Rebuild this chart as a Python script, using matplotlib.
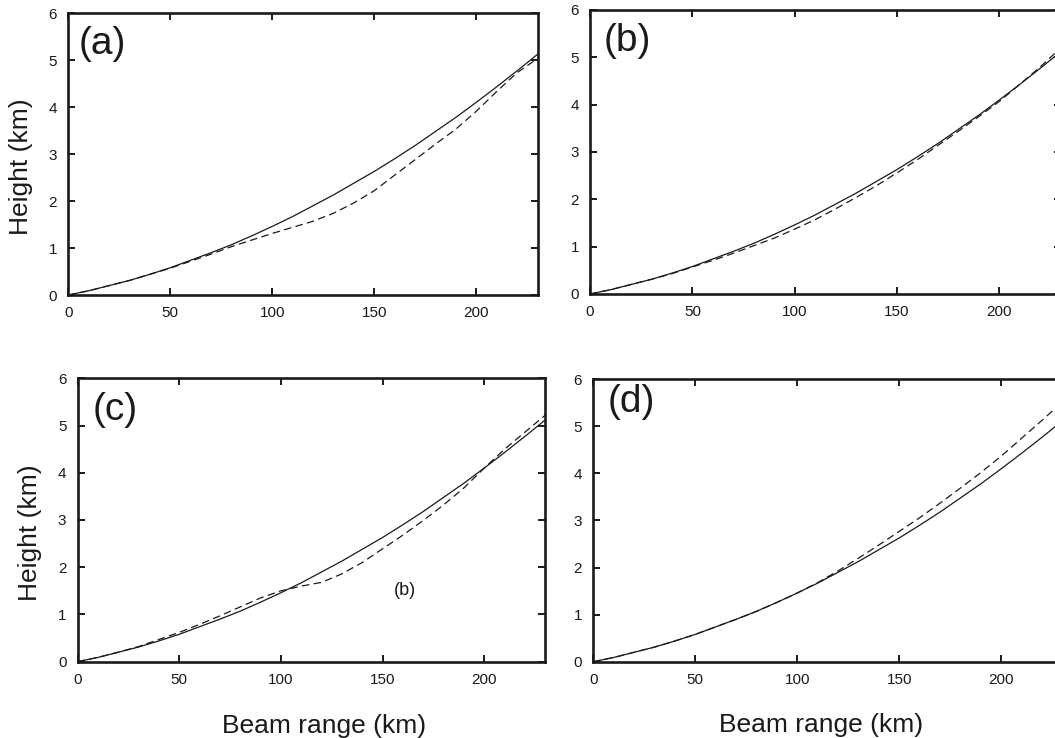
import matplotlib
matplotlib.use("Agg")
import matplotlib.pyplot as plt

plt.rcParams['font.family'] = ['Liberation Sans', 'DejaVu Sans']

# beam range (km)
rng = [0, 10, 20, 30, 40, 50, 60, 70, 80, 90, 100, 110, 120,
       130, 140, 150, 160, 170, 180, 190, 200, 210, 220, 230]

# reference beam height (km), same in every panel
h_ref = [0, 0.09, 0.20, 0.31, 0.44, 0.58, 0.74, 0.90, 1.07, 1.26, 1.46, 1.67, 1.90,
         2.13, 2.38, 2.63, 2.90, 3.18, 3.48, 3.78, 4.10, 4.43, 4.77, 5.12]

# ray-traced beam heights (km)
h_a = [0, 0.09, 0.20, 0.31, 0.44, 0.57, 0.72, 0.87, 1.03, 1.17, 1.31, 1.44, 1.57,
       1.74, 1.96, 2.22, 2.55, 2.88, 3.21, 3.53, 3.91, 4.33, 4.73, 5.03]
h_b = [0, 0.09, 0.20, 0.31, 0.43, 0.57, 0.71, 0.86, 1.02, 1.18, 1.37, 1.57, 1.80,
       2.04, 2.29, 2.56, 2.84, 3.14, 3.44, 3.75, 4.07, 4.43, 4.80, 5.20]
h_c = [0, 0.09, 0.20, 0.32, 0.47, 0.62, 0.79, 0.97, 1.16, 1.35, 1.50, 1.60, 1.68,
       1.86, 2.10, 2.39, 2.68, 2.99, 3.32, 3.68, 4.10, 4.50, 4.86, 5.22]
h_d = [0, 0.09, 0.20, 0.31, 0.44, 0.58, 0.74, 0.90, 1.07, 1.26, 1.46, 1.68, 1.93,
       2.20, 2.48, 2.77, 3.06, 3.37, 3.69, 4.02, 4.37, 4.75, 5.13, 5.52]

fig = plt.figure(figsize=(10.55, 7.38), dpi=100)

panels = [
    # (rect, dashed data, tag, tag position, ylabel x, xlabel x)
    ([0.06474, 0.60027, 0.44474, 0.38211], h_a, '(a)', (0.021, 0.955), -0.075, None),
    ([0.55924, 0.60163, 0.44626, 0.38482], h_b, '(b)', (0.030, 0.955), None, None),
    ([0.07346, 0.10339, 0.44341, 0.38401], h_c, '(c)', (0.032, 0.950), -0.076, 0.527),
    ([0.56237, 0.10339, 0.44474, 0.38266], h_d, '(d)', (0.030, 0.985), None, 0.486),
]

for rect, h_dash, tag, tag_xy, ylab_x, xlab_x in panels:
    ax = fig.add_axes(rect)
    ax.plot(rng, h_ref, color='#1a1a1a', lw=0.9)
    ax.plot(rng, h_dash, color='#1a1a1a', lw=0.9, dashes=(6, 3.5))
    ax.set_xlim(0, 230)
    ax.set_ylim(0, 6)
    ax.set_xticks([0, 50, 100, 150, 200])
    ax.set_yticks([0, 1, 2, 3, 4, 5, 6])
    ax.tick_params(direction='in', top=True, right=True, length=5, width=1.4,
                   labelsize=11, pad=8, colors='#1a1a1a')
    for sp in ax.spines.values():
        sp.set_linewidth(1.9)
        sp.set_color('#1a1a1a')
    ax.text(tag_xy[0], tag_xy[1], tag, transform=ax.transAxes, fontsize=28,
            ha='left', va='top', color='#1a1a1a')
    if ylab_x is not None:
        ax.set_ylabel('Height (km)', fontsize=19, color='#1a1a1a')
        ax.yaxis.set_label_coords(ylab_x, 0.455)
    if xlab_x is not None:
        ax.set_xlabel('Beam range (km)', fontsize=19, color='#1a1a1a')
        ax.xaxis.set_label_coords(xlab_x, -0.183)
    if tag == '(c)':
        ax.text(161, 1.5, '(b)', fontsize=13, ha='center', va='center', color='#1a1a1a')

fig.savefig('out.png', dpi=100)
